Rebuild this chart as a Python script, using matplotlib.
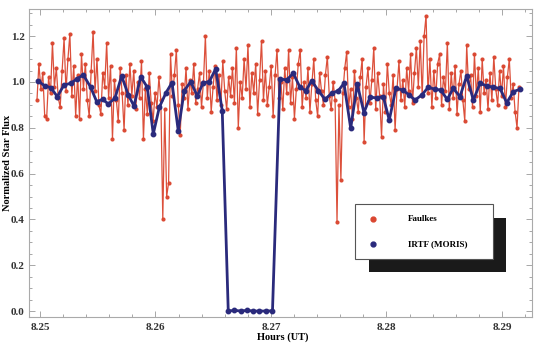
import numpy as np
import matplotlib
matplotlib.use("Agg")
import matplotlib.pyplot as plt
from matplotlib.lines import Line2D
from matplotlib.patches import Rectangle
from matplotlib.ticker import MultipleLocator

faulkes_start, faulkes_end = 8.24974, 8.29147
faulkes_flux = [
    0.92, 1.08, 0.97, 1.04, 0.85, 0.84, 1.02, 0.95, 1.17, 0.98,
    1.06, 0.93, 0.89, 1.05, 1.19, 0.96, 1.10, 1.21, 0.94, 1.07,
    0.85, 1.03, 0.84, 1.12, 0.97, 1.08, 0.92, 0.85, 1.05, 1.22,
    0.96, 1.10, 0.90, 0.86, 1.04, 0.98, 1.17, 0.93, 1.07, 0.75,
    1.01, 0.92, 0.83, 1.06, 0.95, 0.79, 1.03, 0.90, 1.08, 0.94,
    1.05, 0.88, 1.00, 0.93, 1.09, 0.75, 0.97, 0.86, 1.04, 0.91,
    0.83, 0.95, 0.89, 1.02, 0.92, 0.40, 0.88, 0.50, 0.56, 1.12,
    0.94, 1.03, 1.14, 0.90, 0.77, 0.99, 0.93, 1.06, 0.88, 1.01,
    0.95, 1.08, 0.91, 0.97, 1.04, 0.89, 1.00, 1.20, 0.93, 1.05,
    0.87, 0.98, 1.07, 0.92, 1.03, 0.90, 1.09, 0.96, 0.88, 1.02,
    0.94, 1.06, 0.91, 1.15, 0.80, 1.00, 0.93, 1.10, 0.97, 1.16,
    0.89, 1.04, 0.95, 1.08, 0.86, 1.01, 1.18, 0.92, 1.05, 0.90,
    0.98, 1.07, 0.85, 1.03, 1.14, 0.93, 1.00, 0.88, 1.06, 0.95,
    1.14, 0.91, 1.02, 0.84, 0.97, 1.08, 1.14, 0.89, 1.00, 0.93,
    1.06, 0.87, 0.99, 1.10, 0.92, 0.85, 1.04, 0.96, 0.90, 1.03,
    1.11, 0.94, 0.88, 1.00, 0.92, 0.39, 0.90, 0.57, 0.95, 1.06,
    1.13, 0.89, 0.97, 0.84, 1.05, 0.93, 0.87, 1.02, 1.10, 0.74,
    0.98, 1.06, 0.91, 1.01, 1.15, 0.88, 1.04, 0.94, 0.76, 0.99,
    0.87, 1.08, 0.95, 0.90, 1.03, 0.79, 0.97, 1.09, 0.92, 1.01,
    0.89, 1.06, 0.96, 1.12, 0.91, 1.04, 1.15, 0.98, 1.18, 0.94,
    1.20, 1.29, 0.95, 1.10, 0.89, 1.05, 0.93, 1.08, 1.12, 0.90,
    1.02, 0.96, 1.17, 0.88, 1.04, 0.93, 1.07, 0.86, 0.99, 1.05,
    0.92, 0.83, 1.16, 0.97, 1.03, 0.89, 1.12, 0.94, 1.06, 0.87,
    1.10, 0.95, 1.01, 0.88, 1.04, 0.92, 1.11, 0.97, 0.90, 1.05,
    0.94, 1.07, 0.89, 1.02, 1.10, 0.93, 0.99, 0.87, 0.80, 0.98,
]
faulkes_hours = np.linspace(faulkes_start, faulkes_end, len(faulkes_flux))

# IRTF (MORIS) photometry
irtf_hours = [
    8.24980, 8.25041, 8.25095, 8.25150, 8.25208, 8.25266, 8.25318, 8.25375, 8.25439, 8.25491,
    8.25543, 8.25591, 8.25649, 8.25707, 8.25765, 8.25814, 8.25872, 8.25929, 8.25981, 8.26033,
    8.26091, 8.26143, 8.26197, 8.26249, 8.26305, 8.26362, 8.26414, 8.26466, 8.26521, 8.26578,
    8.26630, 8.26684, 8.26740, 8.26792, 8.26844, 8.26900, 8.26957, 8.27013,
    8.27078, 8.27136, 8.27193, 8.27251, 8.27303, 8.27352, 8.27410, 8.27468, 8.27526, 8.27583,
    8.27632, 8.27690, 8.27747, 8.27805, 8.27857, 8.27915, 8.27972, 8.28024, 8.28082, 8.28140,
    8.28197, 8.28247, 8.28305, 8.28362, 8.28420, 8.28469, 8.28526, 8.28578, 8.28636, 8.28694,
    8.28752, 8.28810, 8.28868, 8.28925, 8.28983, 8.29041, 8.29098, 8.29156,
]
irtf_flux = [
    1.006, 0.983, 0.975, 0.936, 0.987, 0.994, 1.013, 1.031, 0.977, 0.914,
    0.924, 0.904, 0.929, 1.026, 0.943, 0.895, 1.023, 0.977, 0.773, 0.889,
    0.953, 0.997, 0.787, 0.962, 1.001, 0.939, 0.997, 1.001, 1.057, 0.875,
    0.000, 0.003, 0.000, 0.003, 0.000, 0.000, 0.000, 0.001,
    1.013, 1.009, 1.038, 0.977, 0.962, 1.006, 0.962, 0.924, 0.951, 0.962,
    0.994, 0.798, 0.991, 0.866, 0.933, 0.931, 0.936, 0.834, 0.972, 0.965,
    0.943, 0.921, 0.943, 0.977, 0.968, 0.965, 0.924, 0.972, 0.936, 1.026,
    0.921, 0.994, 0.983, 0.977, 0.972, 0.909, 0.958, 0.968,
]

x_ticks = [8.25, 8.26, 8.27, 8.28, 8.29]
y_ticks = [0.0, 0.2, 0.4, 0.6, 0.8, 1.0, 1.2]

red = '#da4630'
blue = '#2a2a7c'
serif = ['Liberation Serif', 'DejaVu Serif']

fig = plt.figure(figsize=(5.38, 3.44), dpi=100)
ax = fig.add_axes([0.0539, 0.0785, 0.935, 0.895])

ax.plot(faulkes_hours, faulkes_flux, color=red, lw=0.9, marker='o', ms=2.0, alpha=0.95, zorder=2)
ax.plot(irtf_hours, irtf_flux, color=blue, lw=2.0, marker='o', ms=3.2, zorder=3)

ax.set_xlim(8.24905, 8.29260)
ax.set_ylim(-0.026, 1.318)
ax.set_xticks(x_ticks)
ax.set_xticklabels(['%.2f' % t for t in x_ticks])
ax.set_yticks(y_ticks)
ax.set_yticklabels(['%.1f' % t for t in y_ticks])
ax.xaxis.set_minor_locator(MultipleLocator(0.002))
ax.yaxis.set_minor_locator(MultipleLocator(0.05))
ax.tick_params(which='both', direction='in', top=True, right=True, color='#999999', width=0.6)
ax.tick_params(which='major', length=4)
ax.tick_params(which='minor', length=2)
ax.tick_params(axis='x', pad=4)
ax.tick_params(axis='y', pad=3)
for lab in ax.get_xticklabels() + ax.get_yticklabels():
    lab.set_family(serif)
    lab.set_fontweight('bold')
    lab.set_fontsize(8)
    lab.set_color('#333333')
for sp in ax.spines.values():
    sp.set_color('#aaaaaa')
    sp.set_linewidth(0.8)

ax.set_xlabel('Hours (UT)', family=serif, fontweight='bold', fontsize=7.5)
ax.set_ylabel('Normalized Star Flux', family=serif, fontweight='bold', fontsize=7.5)
ax.xaxis.set_label_coords(0.505, -0.05)
ax.yaxis.set_label_coords(-0.034, 0.5)

# legend box with offset black shadow
W, H = 538.0, 344.0
fig.add_artist(Rectangle((368.5 / W, 1 - 272.3 / H), 137.5 / W, 54 / H,
                         transform=fig.transFigure, facecolor='#1a1a1a', edgecolor='none', zorder=5))
fig.add_artist(Rectangle((355 / W, 1 - 259 / H), 137.5 / W, 55 / H,
                         transform=fig.transFigure, facecolor='white', edgecolor='#555555', lw=0.8, zorder=6))
for label, col, ypx in [('Faulkes', red, 219.3), ('IRTF (MORIS)', blue, 244.0)]:
    fig.add_artist(Line2D([372.7 / W], [1 - ypx / H], marker='o', ms=3.5, color=col, lw=0,
                          transform=fig.transFigure, zorder=7))
    fig.text(408 / W, 1 - ypx / H, label, family=serif, fontweight='bold', fontsize=6.5,
             va='center', ha='left', zorder=7)

fig.savefig('out.png', dpi=100)
